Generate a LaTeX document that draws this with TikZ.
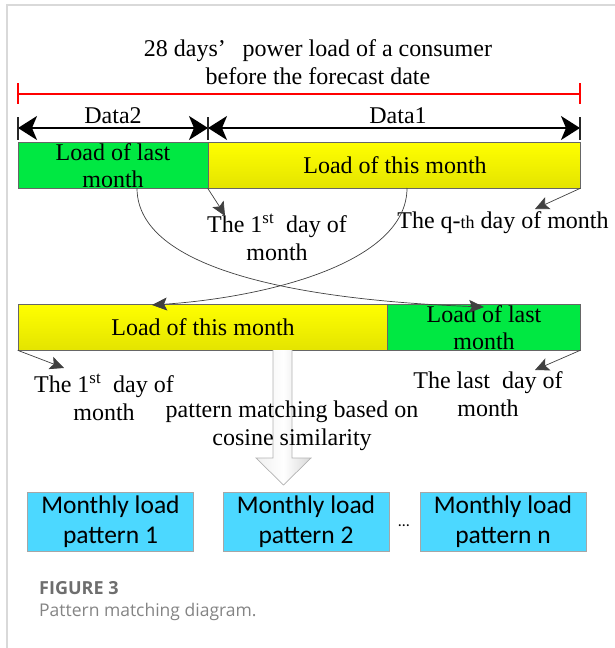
\documentclass[tikz,border=0pt]{standalone}
\usepackage{fontspec}
\setmainfont{Liberation Serif}
\newfontfamily\calfont{Carlito}
\newfontfamily\capfont{Open Sans}
\usetikzlibrary{arrows.meta}

\definecolor{barGreen}{RGB}{0,232,66}
\definecolor{barYellow}{RGB}{255,255,0}
\definecolor{barYellowDk}{RGB}{228,228,0}
\definecolor{boxCyan}{RGB}{76,216,255}
\definecolor{tipGrey}{RGB}{64,64,64}
\definecolor{capGrey}{RGB}{110,110,110}

\tikzset{
  txt/.style={align=center, inner sep=0pt, font=\fontsize{24}{27.5}\selectfont},
  greenbar/.style={draw=gray!80!black, line width=0.6pt, fill=barGreen, minimum height=46pt, inner sep=0pt},
  yellowbar/.style={draw=gray!80!black, line width=0.6pt, top color=barYellow, bottom color=barYellowDk, minimum height=46pt, inner sep=0pt},
  patternbox/.style={draw=gray!70, line width=0.8pt, fill=boxCyan, minimum width=166pt, minimum height=59pt, align=center, inner sep=0pt,
                     font=\calfont\fontsize{25.5}{30}\selectfont},
  dataarrow/.style={line width=1.8pt, -{Stealth[length=19pt,width=24pt,inset=5pt]}},
  endtick/.style={line width=2pt, draw=gray!30!black},
  redline/.style={line width=2.6pt, red},
  smallarrow/.style={line width=0.7pt, tipGrey, -{Stealth[length=14pt,width=13pt,inset=3pt]}},
  swaparrow/.style={line width=0.7pt, tipGrey, -{Stealth[length=15pt,width=13pt,inset=3pt]}},
}

\begin{document}
\begin{tikzpicture}[x=1pt, y=-1pt]
  \useasboundingbox (0,0) rectangle (615,648);
  % frame
  \draw[gray!30, line width=2pt] (7,648) -- (7,5) -- (615,5);

  % title and the 28 days span
  \node[txt] (title) at (318,62) {28 days’\hspace{0.7em}power load of a consumer\\before the forecast date};
  \coordinate (r0) at (18,94);
  \coordinate (r1) at (580,94);
  \draw[redline] (r0) -- (r1);
  \draw[redline] ([yshift=11pt]r0) -- ([yshift=-10pt]r0);
  \draw[redline] ([yshift=11pt]r1) -- ([yshift=-10pt]r1);

  % Data2 / Data1
  \coordinate (d0) at (18,128);
  \coordinate (d1) at (208,128);
  \coordinate (d2) at (580,128);
  \draw[dataarrow] (d1) -- (d0);
  \draw[dataarrow] (d0) -- (d1);
  \draw[dataarrow] (d1) -- (d2);
  \draw[dataarrow] (d2) -- (d1);
  \foreach \c in {d0,d1,d2}
    \draw[endtick] ([yshift=11pt]\c) -- ([yshift=-12pt]\c);
  \node[txt] (data2) at (113,116) {Data2};
  \node[txt] (data1) at (398,116) {Data1};

  % upper bar
  \node[greenbar, minimum width=190pt] (last1) at (113,165) {};
  \node[yellowbar, minimum width=372pt] (this1) at (394,165) {};
  \node[txt] (last1txt) at (113,165.5) {Load of last\\month};
  \node[txt] (this1txt) at (395,165) {Load of this month};

  % lower bar
  \node[yellowbar, minimum width=369pt] (this2) at (202.5,327) {};
  \node[greenbar, minimum width=193pt] (last2) at (483.5,327) {};
  \node[txt] (this2txt) at (203,327) {Load of this month};
  \node[txt] (last2txt) at (484,327.5) {Load of last\\month};

  % day labels
  \node[txt] (first1) at (277,237.5) {The 1\textsuperscript{st}\ \ day of\\month};
  \node[txt] (qth) at (503,223) {The q-{\fontsize{18}{20}\selectfont th} day of month};
  \node[txt] (first2) at (104,397.5) {The 1\textsuperscript{st}\ \ day of\\month};
  \node[txt] (lastday) at (488,394) {The last\ \ day of\\month};

  \coordinate (t1) at (225,216);
  \coordinate (tq) at (535,209);
  \coordinate (t2) at (64,368);
  \coordinate (tl) at (535,370);
  \draw[smallarrow] (this1.south west) .. controls (214,197) .. (t1);
  \draw[smallarrow] (this1.south east) -- (tq);
  \draw[smallarrow] (this2.south west) -- (t2);
  \draw[smallarrow] (last2.south east) -- (tl);

  % months swap
  \coordinate (s1) at (137,188);
  \coordinate (s2) at (407,188);
  \coordinate (e1) at (484,307);
  \coordinate (e2) at (152,305);
  \draw[swaparrow] (s1) .. controls (137,270) and (300,300) .. (e1);
  \draw[swaparrow] (s2) .. controls (407,265) and (260,298) .. (e2);

  % matching arrow
  \draw[gray!60, line width=0.7pt, left color=gray!12, right color=gray!30, middle color=white]
    (273,350) -- (273,458) -- (256,458) -- (283.5,485) -- (311,458) -- (292,458) -- (292,350);
  \node[txt] (match) at (292,426) {pattern matching based on\\cosine similarity};

  % load patterns
  \node[patternbox] (pat1) at (110.5,521.5) {Monthly load\\pattern 1};
  \node[patternbox] (pat2) at (306,521.5) {Monthly load\\pattern 2};
  \node[patternbox] (patn) at (503,521.5) {Monthly load\\pattern n};
  \node[inner sep=0pt, font=\calfont\fontsize{16}{18}\selectfont] (dots) at (404,526) {\dots};

  % caption
  \node[anchor=west, inner sep=0pt, text=capGrey, font=\capfont\fontsize{18}{20}\selectfont\bfseries] (fig) at (39,588) {FIGURE 3};
  \node[anchor=west, inner sep=0pt, text=capGrey!85, font=\capfont\fontsize{17.5}{20}\selectfont] (cap) at (39,612) {Pattern matching diagram.};
\end{tikzpicture}
\end{document}
